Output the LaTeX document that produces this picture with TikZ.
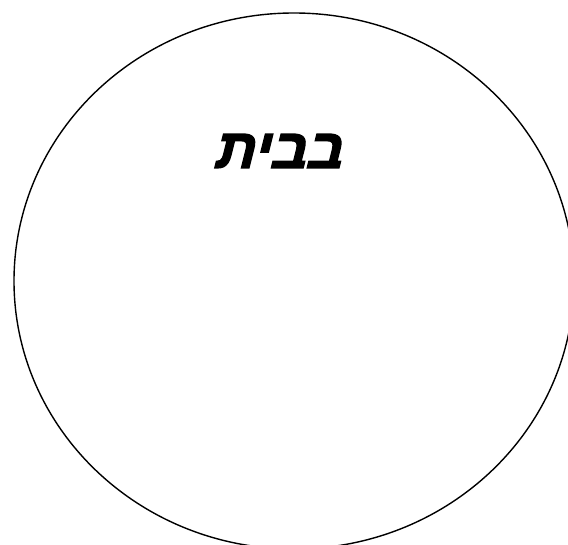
\documentclass[tikz,border=0pt]{standalone}
\usepackage{fontspec}
\usetikzlibrary{shapes.geometric}
\TeXXeTstate=1
\newfontfamily\hebfont[Script=Hebrew,FakeSlant=0.25,FakeBold=2.5]{Liberation Sans Bold}
\begin{document}
\begin{tikzpicture}[x=1pt,y=-1pt,
  outline/.style={draw=black,line width=1.4pt},
  label/.style={font=\hebfont\fontsize{56}{60}\selectfont,inner sep=0pt}]
\useasboundingbox (0,0) rectangle (568,545);
\fill[white] (0,0) rectangle (568,545);
\begin{scope}
\clip (0,0) rectangle (568,545);
\node[outline,ellipse,minimum width=560pt,minimum height=536pt,inner sep=0pt] (circ) at (294,281) {};
\end{scope}
\node[label] (t) at (277,151) {\beginR בבית\endR};
\end{tikzpicture}
\end{document}
